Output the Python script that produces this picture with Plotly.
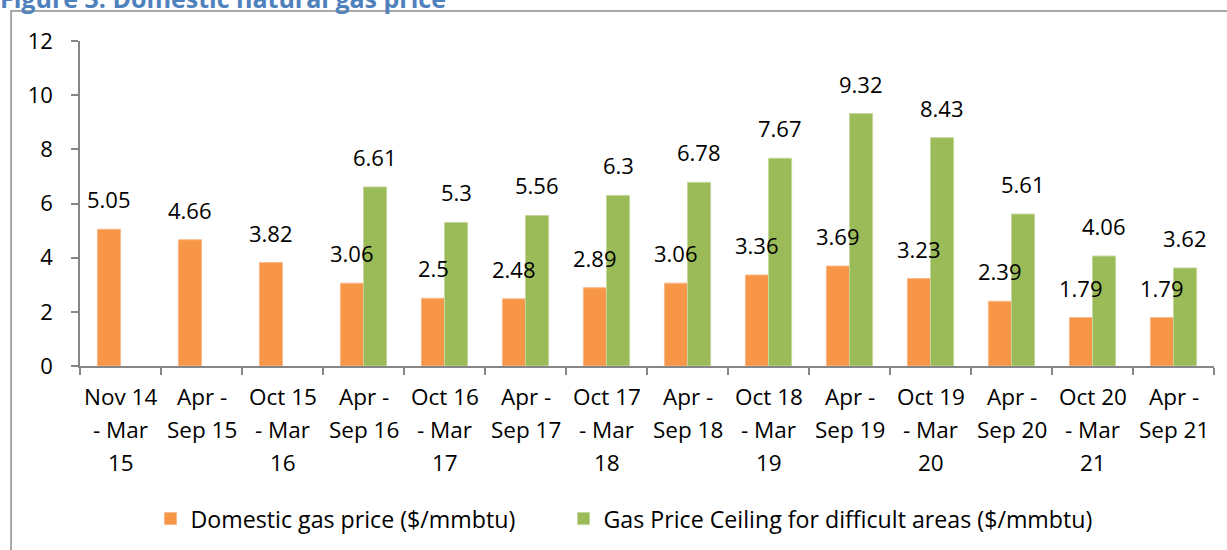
import plotly.graph_objects as go

categories = ["Nov 14 - Mar 15", "Apr - Sep 15", "Oct 15 - Mar 16", "Apr - Sep 16",
              "Oct 16 - Mar 17", "Apr - Sep 17", "Oct 17 - Mar 18", "Apr - Sep 18",
              "Oct 18 - Mar 19", "Apr - Sep 19", "Oct 19 - Mar 20", "Apr - Sep 20",
              "Oct 20 - Mar 21", "Apr - Sep 21"]
tick_lines = [["Nov 14", "- Mar", "15"], ["Apr -", "Sep 15"], ["Oct 15", "- Mar", "16"],
              ["Apr -", "Sep 16"], ["Oct 16", "- Mar", "17"], ["Apr -", "Sep 17"],
              ["Oct 17", "- Mar", "18"], ["Apr -", "Sep 18"], ["Oct 18", "- Mar", "19"],
              ["Apr -", "Sep 19"], ["Oct 19", "- Mar", "20"], ["Apr -", "Sep 20"],
              ["Oct 20", "- Mar", "21"], ["Apr -", "Sep 21"]]
domestic = [5.05, 4.66, 3.82, 3.06, 2.5, 2.48, 2.89, 3.06, 3.36, 3.69, 3.23, 2.39, 1.79, 1.79]
ceiling = [None, None, None, 6.61, 5.3, 5.56, 6.3, 6.78, 7.67, 9.32, 8.43, 5.61, 4.06, 3.62]
y_ticks = [0, 2, 4, 6, 8, 10, 12]

FONT = "Open Sans"
ORANGE = "#F79646"
GREEN = "#9BBB59"
AXIS = "#868686"

fig = go.Figure()
fig.add_trace(go.Bar(x=categories, y=domestic, name="Domestic gas price ($/mmbtu)",
                     marker=dict(color=ORANGE, line=dict(color="#FAB88A", width=1)),
                     legend="legend"))
fig.add_trace(go.Bar(x=categories, y=ceiling, name="Gas Price Ceiling for difficult areas ($/mmbtu)",
                     marker=dict(color=GREEN, line=dict(color="#C3D69B", width=1)),
                     legend="legend2"))

annotations = []
for series, shift in ((domestic, -11.5), (ceiling, 11.5)):
    for c, v in zip(categories, series):
        if v is None:
            continue
        annotations.append(dict(x=c, y=v, xref="x", yref="y", text=f"{v:g}", showarrow=False,
                                xshift=shift, yshift=30, yanchor="middle",
                                font=dict(family=FONT, size=22, color="#000000")))
for c, lines in zip(categories, tick_lines):
    for i, ln in enumerate(lines):
        annotations.append(dict(x=c, y=0, xref="x", yref="y", text=ln, showarrow=False,
                                yshift=-(30 + 33 * i), yanchor="middle",
                                font=dict(family=FONT, size=22.5, color="#000000")))
annotations.append(dict(x=0, y=1, xref="paper", yref="paper", text="<b>Figure 3: Domestic natural gas price</b>",
                        showarrow=False, xanchor="left", yanchor="bottom", xshift=-82, yshift=24,
                        font=dict(family=FONT, size=25, color="#4F81BD")))

legend_common = dict(orientation="h", xanchor="left", y=-0.4708, yanchor="middle",
                     font=dict(family=FONT, size=23.2), itemwidth=30, bgcolor="rgba(0,0,0,0)")

fig.update_layout(
    width=1227, height=550,
    margin=dict(l=80, r=13, t=41, b=184, autoexpand=False),
    paper_bgcolor="white", plot_bgcolor="white",
    barmode="group", bargap=0.43, bargroupgap=0,
    font=dict(family=FONT, size=22, color="#000000"),
    showlegend=True,
    legend=dict(x=(170.5 - 20 - 80) / 1134, **legend_common),
    legend2=dict(x=(583.5 - 20 - 80) / 1134, **legend_common),
    xaxis=dict(showticklabels=False, ticks="outside", ticklen=7, tickcolor=AXIS, tickwidth=1.5,
               tickson="boundaries", showline=True, linecolor=AXIS, linewidth=1.5, showgrid=False),
    yaxis=dict(range=[0, 12], tickvals=y_ticks, ticks="outside", ticklen=7, tickcolor=AXIS,
               tickwidth=1.5, showline=True, linecolor=AXIS, linewidth=1.5, showgrid=False,
               zeroline=False, ticklabelstandoff=14, tickfont=dict(family=FONT, size=22)),
    annotations=annotations,
    shapes=[dict(type="rect", xref="paper", yref="paper", x0=-0.0608, x1=1.05, y0=-0.6, y1=1.0923,
                 line=dict(color="#8C8C8C", width=1.5), fillcolor="rgba(0,0,0,0)", layer="below")],
)

fig.write_html("out.html", config={"displayModeBar": False},
               post_script="document.body.style.margin='0px';")
